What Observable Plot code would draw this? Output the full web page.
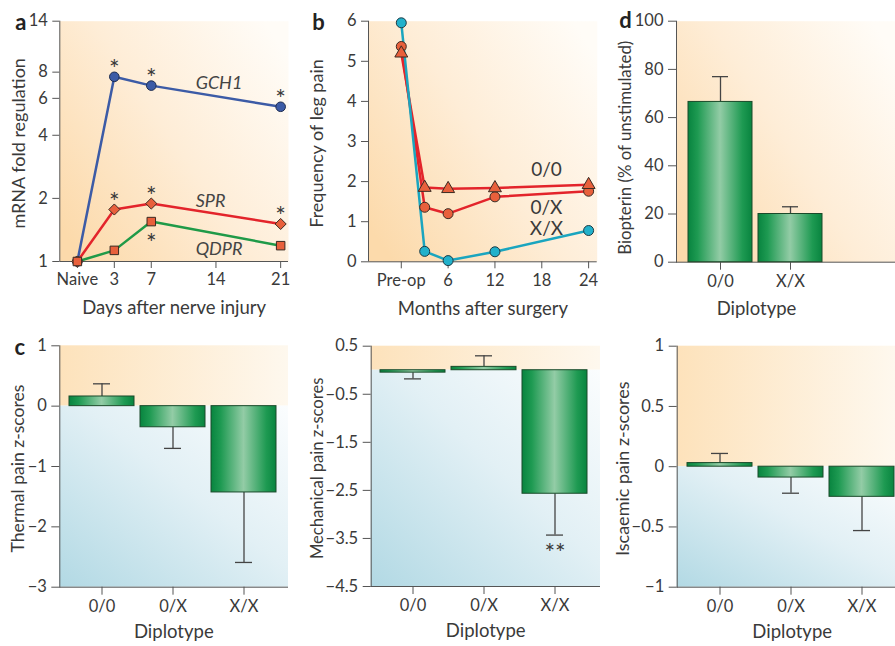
<!DOCTYPE html>
<html><head><meta charset="utf-8">
<script src="https://cdn.jsdelivr.net/npm/d3@7"></script>
<script src="https://cdn.jsdelivr.net/npm/@observablehq/plot@0.6"></script>
<style>
html,body{margin:0;padding:0;background:#fff;overflow:hidden;}
#wrap{position:relative;width:895px;height:646px;}
#wrap svg{position:absolute;left:0;top:0;}
</style></head><body>
<svg width="0" height="0" style="position:absolute">
<defs>
<linearGradient id="bgTop" x1="0" y1="0.85" x2="1" y2="0.15">
 <stop offset="0" stop-color="#fcdaab"/><stop offset="0.5" stop-color="#feedd7"/><stop offset="1" stop-color="#fffcf7"/>
</linearGradient>
<linearGradient id="bgUp" x1="0" y1="0" x2="1" y2="0">
 <stop offset="0" stop-color="#fde2bb"/><stop offset="1" stop-color="#fef8ee"/>
</linearGradient>
<linearGradient id="bgDown" x1="0" y1="1" x2="1" y2="0">
 <stop offset="0" stop-color="#b2d9e4"/><stop offset="0.55" stop-color="#e2f0f5"/><stop offset="1" stop-color="#fbfdfe"/>
</linearGradient>
<linearGradient id="barG" x1="0" y1="0" x2="1" y2="0">
 <stop offset="0" stop-color="#08843f"/><stop offset="0.15" stop-color="#1e9a52"/><stop offset="0.5" stop-color="#93cca6"/><stop offset="0.85" stop-color="#1e9a52"/><stop offset="1" stop-color="#08843f"/>
</linearGradient>
</defs></svg>
<div id="wrap"></div>
<script>
// ---------- data ----------
// panel a
const aDays = [-1, 3, 7, 21];
const aGCH1 = [1, 7.6, 6.9, 5.47];
const aSPR = [1, 1.77, 1.89, 1.51];
const aQDPR = [1, 1.13, 1.55, 1.19];
const aTickDays = [-1, 3, 7, 14, 21];
const aTickLabels = ["Naive", "3", "7", "14", "21"];
const aYTicks = [1, 2, 4, 6, 8, 14];
const aStarsGCH1 = [3, 7, 21];
const aStarsSPR = [3, 7, 21];
const aStarsQDPR = [7];
const aLabels = [
  {label: "GCH1", day: 11.8, value: 7.08},
  {label: "SPR", day: 11.8, value: 1.93},
  {label: "QDPR", day: 11.8, value: 1.15}
];
// panel b
const bMonths = [0, 3, 6, 12, 24];
const b00 = [5.2, 1.85, 1.82, 1.84, 1.92];
const b0X = [5.37, 1.36, 1.2, 1.62, 1.76];
const bXX = [5.96, 0.26, 0.03, 0.25, 0.78];
const bTickMonths = [0, 6, 12, 18, 24];
const bTickLabels = ["Pre-op", "6", "12", "18", "24"];
const bLabels = [
  {label: "0/0", month: 18.6, value: 2.28},
  {label: "0/X", month: 18.6, value: 1.34},
  {label: "X/X", month: 18.6, value: 0.81}
];
// panel d
const dDiplotypes = ["0/0", "X/X"];
const dMean = [66.5, 20];
const dErr = [77, 23];
// panel c
const diplotypes = ["0/0", "0/X", "X/X"];
const thermalMean = [0.16, -0.35, -1.43];
const thermalErr = [0.37, -0.70, -2.59];
const mechMean = [-0.05, 0.07, -2.57];
const mechErr = [-0.18, 0.30, -3.43];
const iscMean = [0.03, -0.09, -0.25];
const iscErr = [0.11, -0.22, -0.53];

// ---------- helpers ----------
const W = 895, H = 646;
const FONT = "Lato, 'Open Sans', sans-serif";
const INK = "#3a3a3a";
const AX = "#555";
const TITLE = 18.5;
const TICK = 16.5;
const wrap = document.getElementById("wrap");
const fmtMinus = d => (d < 0 ? "\u2212" : "") + Math.abs(d);
function frameAt(l, t, r, b) { return {marginLeft: l, marginTop: t, marginRight: W - r, marginBottom: H - b}; }
function mount(opts) {
  const svg = Plot.plot({width: W, height: H, ...opts,
    style: {background: "transparent", overflow: "visible", fontFamily: FONT, fontSize: "16px", color: INK}});
  wrap.appendChild(svg);
}
function series(xs, ys, xk, yk) { return xs.map((x, i) => ({[xk]: x, [yk]: ys[i]})); }
function titleY(text, dx, dy = 0, size = 18) {
  return Plot.text([text], {frameAnchor: "left", rotate: -90, dx, dy, textAnchor: "middle", lineAnchor: "middle", fontSize: size, fill: INK});
}
function titleX(text, dy, dx = 0, anchor = "bottom") {
  return Plot.text([text], {frameAnchor: anchor, dx, dy, textAnchor: "middle", lineAnchor: "middle", fontSize: TITLE, fill: INK});
}
function letter(t, dx, dy) {
  return Plot.text([t], {frameAnchor: "top-left", dx, dy, textAnchor: "middle", lineAnchor: "middle", fontSize: 22, fontWeight: "bold", fill: "#222"});
}
const STAR = 25;

// ---------- panel a ----------
const aG = series(aDays, aGCH1, "day", "value");
const aS = series(aDays, aSPR, "day", "value");
const aQ = series(aDays, aQDPR, "day", "value");
mount({
  ...frameAt(59.3, 20.7, 288, 261),
  x: {domain: [-2.9, 21.85]},
  y: {type: "log", domain: [1, 14]},
  marks: [
    Plot.frame({fill: "url(#bgTop)", stroke: "none"}),
    Plot.ruleY([1], {stroke: AX}),
    Plot.ruleX([-2.9], {stroke: AX}),
    Plot.axisX({ticks: aTickDays, tickFormat: d => aTickLabels[aTickDays.indexOf(d)], tickSize: 7, tickPadding: 5, label: null, stroke: AX, fontSize: TICK}),
    Plot.axisY({ticks: aYTicks, tickFormat: d => String(d), tickSize: 7, tickPadding: 5, label: null, stroke: AX, fontSize: TICK}),
    Plot.line(aG, {x: "day", y: "value", stroke: "#3c5ba6", strokeWidth: 2.5}),
    Plot.line(aS, {x: "day", y: "value", stroke: "#e3242b", strokeWidth: 2.5}),
    Plot.line(aQ, {x: "day", y: "value", stroke: "#1f9a48", strokeWidth: 2.5}),
    Plot.dot(aG, {x: "day", y: "value", r: 4.8, fill: "#3c5ba6", stroke: "#1e2d50", strokeWidth: 1}),
    Plot.dot(aS, {x: "day", y: "value", symbol: "diamond2", r: 5, fill: "#e8603c", stroke: "#3a2a22", strokeWidth: 1}),
    Plot.dot(aQ, {x: "day", y: "value", symbol: "square", r: 4.8, fill: "#e8603c", stroke: "#3a2a22", strokeWidth: 1}),
    Plot.text(aG.filter(d => aStarsGCH1.includes(d.day)), {x: "day", y: "value", text: () => "*", dy: -7, fontSize: STAR, fill: INK}),
    Plot.text(aS.filter(d => aStarsSPR.includes(d.day)), {x: "day", y: "value", text: () => "*", dy: -7, fontSize: STAR, fill: INK}),
    Plot.text(aQ.filter(d => aStarsQDPR.includes(d.day)), {x: "day", y: "value", text: () => "*", dy: 22, fontSize: STAR, fill: INK}),
    Plot.text(aLabels, {x: "day", y: "value", text: "label", textAnchor: "start", fontSize: 18, fontStyle: "italic", fill: "#444"}),
    titleY("mRNA fold regulation", -41, 2, 18),
    titleX("Days after nerve injury", 47),
    letter("a", -39, 2)
  ]
});

// ---------- panel b ----------
const b1 = series(bMonths, b00, "month", "value");
const b2 = series(bMonths, b0X, "month", "value");
const b3 = series(bMonths, bXX, "month", "value");
mount({
  ...frameAt(368, 20.7, 596.7, 261.3),
  x: {domain: [-4.2, 25.1]},
  y: {domain: [0, 6]},
  marks: [
    Plot.frame({fill: "url(#bgTop)", stroke: "none"}),
    Plot.ruleY([0], {stroke: AX}),
    Plot.ruleX([-4.2], {stroke: AX}),
    Plot.axisX({ticks: bTickMonths, tickFormat: d => bTickLabels[bTickMonths.indexOf(d)], tickSize: 7, tickPadding: 5, label: null, stroke: AX, fontSize: TICK}),
    Plot.axisY({ticks: [0, 1, 2, 3, 4, 5, 6], tickFormat: d => String(d), tickSize: 7, tickPadding: 5, label: null, stroke: AX, fontSize: TICK}),
    Plot.line(b1, {x: "month", y: "value", stroke: "#e3242b", strokeWidth: 2.5}),
    Plot.line(b2, {x: "month", y: "value", stroke: "#e3242b", strokeWidth: 2.5}),
    Plot.line(b3, {x: "month", y: "value", stroke: "#1aa5bf", strokeWidth: 2.5}),
    Plot.dot(b2, {x: "month", y: "value", r: 5, fill: "#e8603c", stroke: "#3a2a22", strokeWidth: 1}),
    Plot.dot(b1, {x: "month", y: "value", symbol: "triangle", r: 4.8, fill: "#e8603c", stroke: "#3a2a22", strokeWidth: 1}),
    Plot.dot(b3, {x: "month", y: "value", r: 5, fill: "#22b1cb", stroke: "#1c3a44", strokeWidth: 1}),
    Plot.text(bLabels, {x: "month", y: "value", text: "label", fontSize: 19, fill: INK}),
    titleY("Frequency of leg pain", -51, 2, 18),
    titleX("Months after surgery", 47),
    letter("b", -50, 2)
  ]
});

// ---------- panel d ----------
const dRows = dDiplotypes.map((k, i) => ({k, mean: dMean[i], err: dErr[i]}));
mount({
  ...frameAt(676, 20.7, 895, 261.7),
  x: {domain: dDiplotypes, range: [687, 823], paddingInner: 0.084, paddingOuter: 0},
  y: {domain: [0, 100]},
  marks: [
    Plot.frame({fill: "url(#bgTop)", stroke: "none"}),
    Plot.ruleY([0], {stroke: AX}),
    Plot.frame({anchor: "left", stroke: AX}),
    Plot.axisX({tickSize: 8, tickPadding: 5, label: null, stroke: AX, fontSize: TICK}),
    Plot.axisY({ticks: [0, 20, 40, 60, 80, 100], tickFormat: d => String(d), tickSize: 8, tickPadding: 5, label: null, stroke: AX, fontSize: TICK}),
    Plot.ruleX(dRows, {x: "k", y1: "mean", y2: "err", stroke: "#444", strokeWidth: 1.3}),
    Plot.tickY(dRows, {x: "k", y: "err", insetLeft: 24, insetRight: 24, stroke: "#444", strokeWidth: 1.3}),
    Plot.barY(dRows, {x: "k", y: "mean", fill: "url(#barG)", stroke: "#1a4a2a", strokeWidth: 1}),
    titleY("Biopterin (% of unstimulated)", -51, 6, 16.8),
    titleX("Diplotype", 47, 80, "bottom-left"),
    letter("d", -51, 0)
  ]
});

// ---------- bottom row ----------
function zPanel({l, t, r, b, xRange, yDomain, yTicks, mean, err, title, titleDx, titleSize, diploDx, extra = []}) {
  const rows = diplotypes.map((k, i) => ({k, mean: mean[i], err: err[i]}));
  mount({
    ...frameAt(l, t, r, b),
    x: {domain: diplotypes, range: xRange, paddingInner: 0.088, paddingOuter: 0},
    y: {domain: yDomain},
    marks: [
      Plot.rect([{y1: 0, y2: yDomain[1]}], {y1: "y1", y2: "y2", fill: "url(#bgUp)"}),
      Plot.rect([{y1: yDomain[0], y2: 0}], {y1: "y1", y2: "y2", fill: "url(#bgDown)"}),
      Plot.ruleY([yDomain[0]], {stroke: AX}),
      Plot.frame({anchor: "left", stroke: AX}),
      Plot.axisX({tickSize: 8, tickPadding: 5, label: null, stroke: AX, fontSize: TICK}),
      Plot.axisY({ticks: yTicks, tickFormat: fmtMinus, tickSize: 8, tickPadding: 5, label: null, stroke: AX, fontSize: TICK}),
      Plot.ruleX(rows, {x: "k", y1: "mean", y2: "err", stroke: "#444", strokeWidth: 1.3}),
      Plot.tickY(rows, {x: "k", y: "err", insetLeft: 24, insetRight: 24, stroke: "#444", strokeWidth: 1.3}),
      Plot.barY(rows, {x: "k", y1: 0, y2: "mean", fill: "url(#barG)", stroke: "#1a4a2a", strokeWidth: 1}),
      titleY(title, titleDx, 2, titleSize),
      titleX("Diplotype", 45, diploDx, "bottom-left"),
      ...extra.map(f => f(rows))
    ]
  });
}

zPanel({l: 59.3, t: 345.3, r: 288, b: 586.7, xRange: [69, 276], yDomain: [-3, 1], yTicks: [1, 0, -1, -2, -3],
  mean: thermalMean, err: thermalErr, title: "Thermal pain z-scores", titleDx: -41, titleSize: 17.6, diploDx: 114,
  extra: [() => letter("c", -40, 2)]});

zPanel({l: 370.7, t: 345.7, r: 600, b: 586, xRange: [380, 587], yDomain: [-4.5, 0.5], yTicks: [0.5, -0.5, -1.5, -2.5, -3.5, -4.5],
  mean: mechMean, err: mechErr, title: "Mechanical pain z-scores", titleDx: -54, titleSize: 16.6, diploDx: 114.5,
  extra: [rows => Plot.text(rows.filter(d => d.k === "X/X"), {x: "k", y: "err", text: () => "**", dy: 19, fontSize: STAR, fill: INK})]});

zPanel({l: 676.7, t: 345.7, r: 895, b: 586.7, xRange: [687, 894], yDomain: [-1, 1], yTicks: [1, 0.5, 0, -0.5, -1],
  mean: iscMean, err: iscErr, title: "Iscaemic pain z-scores", titleDx: -54, titleSize: 18, diploDx: 115});
</script>
</body></html>
